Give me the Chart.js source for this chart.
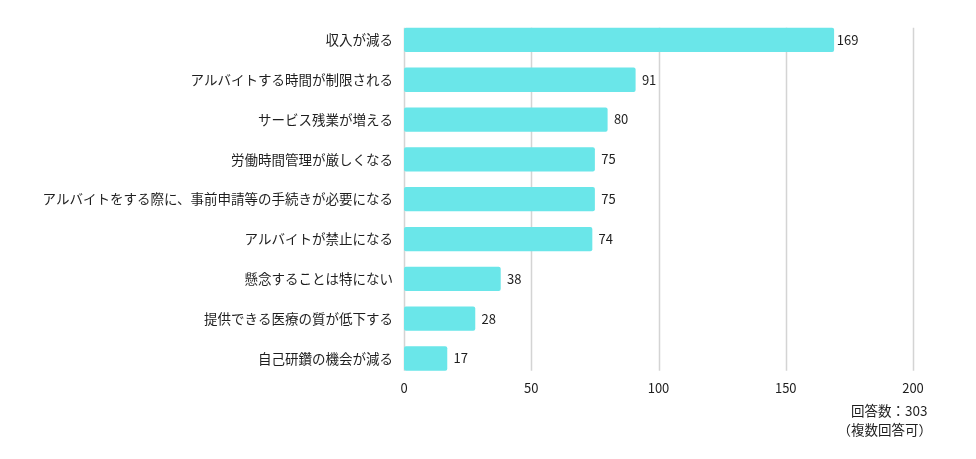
<!DOCTYPE html>
<html lang="ja">
<head>
<meta charset="utf-8">
<script src="https://cdn.jsdelivr.net/npm/chart.js@4/dist/chart.umd.min.js"></script>
<style>
html,body{margin:0;padding:0;background:#fff;}
#wrap{position:relative;width:976px;height:459px;}
</style>
</head>
<body>
<div id="wrap"><canvas id="c" width="976" height="459"></canvas></div>
<script>
const categories = [
  "収入が減る",
  "アルバイトする時間が制限される",
  "サービス残業が増える",
  "労働時間管理が厳しくなる",
  "アルバイトをする際に、事前申請等の手続きが必要になる",
  "アルバイトが禁止になる",
  "懸念することは特にない",
  "提供できる医療の質が低下する",
  "自己研鑽の機会が減る"
];
const values = [169, 91, 80, 75, 75, 74, 38, 28, 17];
const xTicks = [0, 50, 100, 150, 200];
const noteLines = ["回答数：303", "（複数回答可）"];

const FONT = "'Noto Sans CJK JP', 'Noto Sans', sans-serif";
const BAR_COLOR = "#6ae6e9";
const GRID_COLOR = "#d4d4d4";
const TEXT_COLOR = "#1e1e1e";

const gridPlugin = {
  id: "vgrid",
  beforeDatasetsDraw(chart) {
    const meta = chart.getDatasetMeta(0);
    const first = meta.data[0].getProps(["y", "height"], true);
    const last = meta.data[meta.data.length - 1].getProps(["y", "height"], true);
    const top = first.y - first.height / 2;
    const bottom = last.y + last.height / 2;
    const xs = chart.scales.x;
    const ctx = chart.ctx;
    ctx.save();
    ctx.strokeStyle = GRID_COLOR;
    ctx.lineWidth = 1.5;
    xs.ticks.forEach(t => {
      const x = Math.round(xs.getPixelForValue(t.value)) + 0.5;
      ctx.beginPath();
      ctx.moveTo(x, top);
      ctx.lineTo(x, bottom);
      ctx.stroke();
    });
    ctx.restore();
  }
};

const labelPlugin = {
  id: "vlabels",
  afterDatasetsDraw(chart) {
    const ctx = chart.ctx;
    const meta = chart.getDatasetMeta(0);
    ctx.save();
    ctx.font = "13px " + FONT;
    ctx.fillStyle = TEXT_COLOR;
    ctx.textAlign = "center";
    ctx.textBaseline = "middle";
    meta.data.forEach((bar, i) => {
      const p = bar.getProps(["x", "y"], true);
      ctx.fillText(String(values[i]), p.x + 13.5, p.y);
    });
    ctx.restore();
  }
};

const notePlugin = {
  id: "note",
  afterDraw(chart) {
    const ctx = chart.ctx;
    ctx.save();
    ctx.font = "13.5px " + FONT;
    ctx.fillStyle = TEXT_COLOR;
    ctx.textAlign = "right";
    ctx.textBaseline = "middle";
    ctx.fillText(noteLines[0], 927.5, 411);
    ctx.fillText(noteLines[1], 932, 430);
    ctx.restore();
  }
};

new Chart(document.getElementById("c"), {
  type: "bar",
  data: {
    labels: categories,
    datasets: [{
      data: values,
      backgroundColor: BAR_COLOR,
      borderRadius: 2,
      borderSkipped: false,
      barPercentage: 0.61,
      categoryPercentage: 1
    }]
  },
  options: {
    indexAxis: "y",
    responsive: false,
    animation: false,
    layout: { padding: { top: 20, right: 63, bottom: 61, left: 0 } },
    plugins: { legend: { display: false }, tooltip: { enabled: false } },
    scales: {
      x: {
        min: 0, max: 200,
        afterBuildTicks(scale) { scale.ticks = xTicks.map(v => ({ value: v })); },
        grid: { display: false, drawTicks: false },
        border: { display: false },
        ticks: { padding: 2, color: TEXT_COLOR, font: { family: FONT, size: 13 } }
      },
      y: {
        afterFit(scale) { scale.width = 404; },
        grid: { display: false, drawTicks: false },
        border: { display: false },
        ticks: { padding: 11, color: TEXT_COLOR, font: { family: FONT, size: 13.5 } }
      }
    }
  },
  plugins: [gridPlugin, labelPlugin, notePlugin]
});
</script>
</body>
</html>
